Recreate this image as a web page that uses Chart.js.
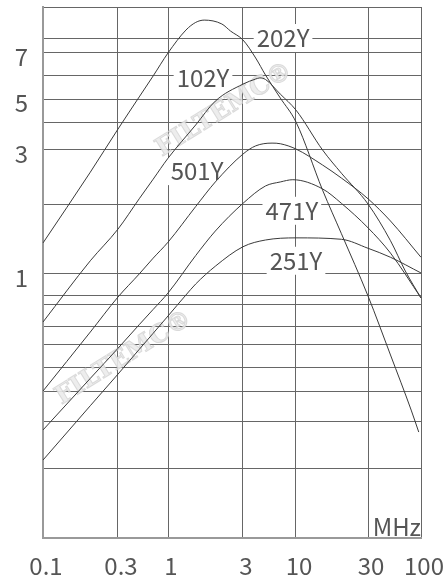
<!DOCTYPE html>
<html>
<head>
<meta charset="utf-8">
<script src="https://cdn.jsdelivr.net/npm/chart.js@4.4.1/dist/chart.umd.min.js"></script>
<style>
    html, body { margin: 0; padding: 0; background: #fff; }
    #chart { display: block; }
</style>
</head>
<body>
<canvas id="chart" width="445" height="576"></canvas>
<script>
// ========================================
// DATA
// ========================================

// Frequency axis (MHz) - gridlines and labels
const xTicks = [0.1, 0.3, 1, 3, 10, 30, 100];
const xTickLabels = ['0.1', '0.3', '1', '3', '10', '30', '100'];

// Impedance axis - gridlines and labelled values
const yGrid = [0.1, 0.2, 0.3, 0.4, 0.5, 0.6, 0.7, 0.8, 0.9, 1, 2, 3, 4, 5, 6, 7, 8, 10];
const yLabelled = [1, 3, 5, 7];

const seriesNames = ['202Y', '102Y', '501Y', '471Y', '251Y'];

const freq202 = [0.1, 0.2, 0.3, 0.5, 0.7, 1, 1.3, 1.5, 1.7, 2.2, 2.5, 3, 4, 5, 7, 10, 15, 20, 30, 50, 80, 95];
const z202    = [1.36, 2.54, 3.72, 5.08, 5.96, 7.0, 8.47, 8.95, 9.1, 8.85, 8.41, 7.86, 6.76, 6.0, 5.04, 4.0, 2.22, 1.49, 0.89, 0.55, 0.335, 0.275];

const freq102 = [0.1, 0.2, 0.3, 0.5, 0.7, 1, 1.5, 2, 3, 4, 4.4, 5, 7, 10, 15, 20, 30, 50, 70, 100];
const z102    = [0.718, 1.14, 1.56, 2.08, 2.41, 2.82, 3.88, 4.90, 5.60, 5.82, 5.87, 5.80, 5.19, 4.49, 3.0, 2.52, 2.0, 1.39, 1.03, 0.869];

const freq501 = [0.1, 0.2, 0.3, 0.5, 0.7, 1, 1.5, 2, 3, 4, 5.8, 7, 10, 15, 20, 30, 50, 100];
const z501    = [0.40, 0.665, 0.879, 1.0, 1.17, 1.37, 1.95, 2.36, 2.91, 3.13, 3.22, 3.2, 3.03, 2.68, 2.43, 2.08, 1.69, 1.18];

const freq471 = [0.1, 0.2, 0.3, 0.5, 0.7, 1, 1.5, 2, 3, 5, 7, 9.3, 15, 20, 30, 50, 100];
const z471    = [0.28, 0.45, 0.58, 0.706, 0.778, 0.909, 1.2, 1.53, 2.01, 2.29, 2.36, 2.40, 2.24, 2.01, 1.58, 1.23, 0.87];

const freq251 = [0.1, 0.2, 0.3, 0.5, 0.7, 1, 1.3, 1.5, 2, 3, 5, 10, 20, 30, 50, 100];
const z251    = [0.216, 0.349, 0.468, 0.575, 0.658, 0.746, 0.9, 0.951, 1.08, 1.31, 1.40, 1.43, 1.41, 1.29, 1.18, 1.01];

// Curve name labels (frequency, impedance)
const labelFreq = [7.45, 1.67, 1.53, 9.1, 10];
const labelZ    = [8, 5.86, 2.56, 1.87, 1.14];

// ========================================
// Escala segmentada (log entre linhas de grade)
// ========================================
class BreakScale extends Chart.LinearScale {
    determineDataLimits() {
        const v = this.options.breakValues;
        this.min = v[0];
        this.max = v[v.length - 1];
    }
    buildTicks() {
        return this.options.breakValues.map(value => ({ value }));
    }
    getPixelForValue(value) {
        const v = this.options.breakValues;
        const p = this.options.breakPos;
        if (value === null || value === undefined || isNaN(value)) return NaN;
        let i = 0;
        while (i < v.length - 2 && value > v[i + 1]) i++;
        const t = Math.log(value / v[i]) / Math.log(v[i + 1] / v[i]);
        return this.getPixelForDecimal(p[i] + t * (p[i + 1] - p[i]));
    }
    getValueForPixel(pixel) {
        const v = this.options.breakValues;
        const p = this.options.breakPos;
        const d = this.getDecimalForPixel(pixel);
        let i = 0;
        while (i < p.length - 2 && d > p[i + 1]) i++;
        const t = (d - p[i]) / (p[i + 1] - p[i]);
        return v[i] * Math.pow(v[i + 1] / v[i], t);
    }
}
BreakScale.id = 'breaks';
BreakScale.defaults = {};
Chart.register(BreakScale);

const FONT = '"Noto Sans CJK SC", "Noto Sans", sans-serif';
const TEXT_COLOR = '#555';
const LINE_COLOR = '#3a3a3a';
const GRID_COLOR = '#666';

const toPoints = (xs, ys) => xs.map((f, i) => ({ x: f, y: ys[i] }));

// tamanho fixo do eixo, sem padding extra dos rótulos
const fixAxis = (size) => (scale) => {
    if (scale.isHorizontal()) scale.height = size; else scale.width = size;
    scale.paddingLeft = scale.paddingRight = scale.paddingTop = scale.paddingBottom = 0;
};

const decorPlugin = {
    id: 'decor',
    beforeDatasetsDraw(chart) {
        const { ctx, chartArea: a, scales: { x, y } } = chart;
        ctx.save();
        // watermark
        ctx.font = 'bold 25px "DejaVu Serif", serif';
        ctx.textAlign = 'center';
        ctx.textBaseline = 'middle';
        ctx.lineWidth = 1;
        [[0.48, 0.194], [0.214, 0.661]].forEach(([fx, fy]) => {
            ctx.save();
            ctx.translate(a.left + fx * (a.right - a.left), a.top + fy * (a.bottom - a.top));
            ctx.rotate(-32 * Math.PI / 180);
            ctx.fillStyle = 'rgba(235,235,235,0.9)';
            ctx.fillText('FILTEMC®', 0, 0);
            ctx.strokeStyle = 'rgba(200,200,200,0.6)';
            ctx.strokeText('FILTEMC®', 0, 0);
            ctx.restore();
        });
        // white boxes behind the curve names
        ctx.font = '24px ' + FONT;
        ctx.fillStyle = '#fff';
        seriesNames.forEach((name, i) => {
            const px = x.getPixelForValue(labelFreq[i]);
            const py = y.getPixelForValue(labelZ[i]);
            const w = ctx.measureText(name).width + 6;
            ctx.fillRect(px - w / 2, py - 14, w, 28);
        });
        ctx.restore();
    },
    afterDatasetsDraw(chart) {
        const { ctx, chartArea: a, scales: { x, y } } = chart;
        ctx.save();
        ctx.font = '24px ' + FONT;
        ctx.fillStyle = TEXT_COLOR;
        ctx.textAlign = 'center';
        ctx.textBaseline = 'middle';
        seriesNames.forEach((name, i) => {
            ctx.fillText(name, x.getPixelForValue(labelFreq[i]), y.getPixelForValue(labelZ[i]));
        });
        ctx.textAlign = 'right';
        ctx.textBaseline = 'bottom';
        ctx.fillText('MHz', a.right, a.bottom + 1);
        ctx.restore();
    }
};

new Chart(document.getElementById('chart'), {
    type: 'line',
    data: {
        datasets: [
            { label: seriesNames[0], data: toPoints(freq202, z202) },
            { label: seriesNames[1], data: toPoints(freq102, z102) },
            { label: seriesNames[2], data: toPoints(freq501, z501) },
            { label: seriesNames[3], data: toPoints(freq471, z471) },
            { label: seriesNames[4], data: toPoints(freq251, z251) }
        ].map(ds => Object.assign(ds, {
            borderColor: LINE_COLOR,
            borderWidth: 1,
            pointRadius: 0,
            fill: false,
            cubicInterpolationMode: 'monotone'
        }))
    },
    options: {
        responsive: false,
        animation: false,
        devicePixelRatio: 1,
        layout: { padding: { left: 0, right: 24, top: 7, bottom: 0 } },
        plugins: {
            legend: { display: false },
            tooltip: { enabled: false }
        },
        scales: {
            x: {
                type: 'breaks',
                breakValues: xTicks,
                breakPos: [0, 0.1984, 0.3307, 0.5291, 0.6693, 0.8598, 1],
                afterFit: fixAxis(38),
                grid: { color: GRID_COLOR, lineWidth: 1, drawTicks: false },
                border: { color: '#999', width: 2 },
                ticks: {
                    autoSkip: false,
                    maxRotation: 0,
                    padding: 13,
                    labelOffset: 3,
                    color: TEXT_COLOR,
                    font: { family: FONT, size: 24 },
                    callback: (value, index) => xTickLabels[index]
                }
            },
            y: {
                type: 'breaks',
                breakValues: yGrid,
                breakPos: [0, 0.130, 0.2185, 0.2768, 0.322, 0.3653, 0.3992, 0.4388, 0.4576, 0.4972,
                           0.629, 0.7307, 0.7834, 0.8267, 0.8719, 0.9134, 0.9416, 1],
                afterFit: fixAxis(43),
                grid: { color: GRID_COLOR, lineWidth: 1, drawTicks: false },
                border: { color: '#999', width: 2 },
                ticks: {
                    autoSkip: false,
                    padding: 15,
                    labelOffset: 4,
                    color: TEXT_COLOR,
                    font: { family: FONT, size: 24 },
                    callback: (value) => yLabelled.includes(value) ? String(value) : ''
                }
            }
        }
    },
    plugins: [decorPlugin]
});
</script>
</body>
</html>
